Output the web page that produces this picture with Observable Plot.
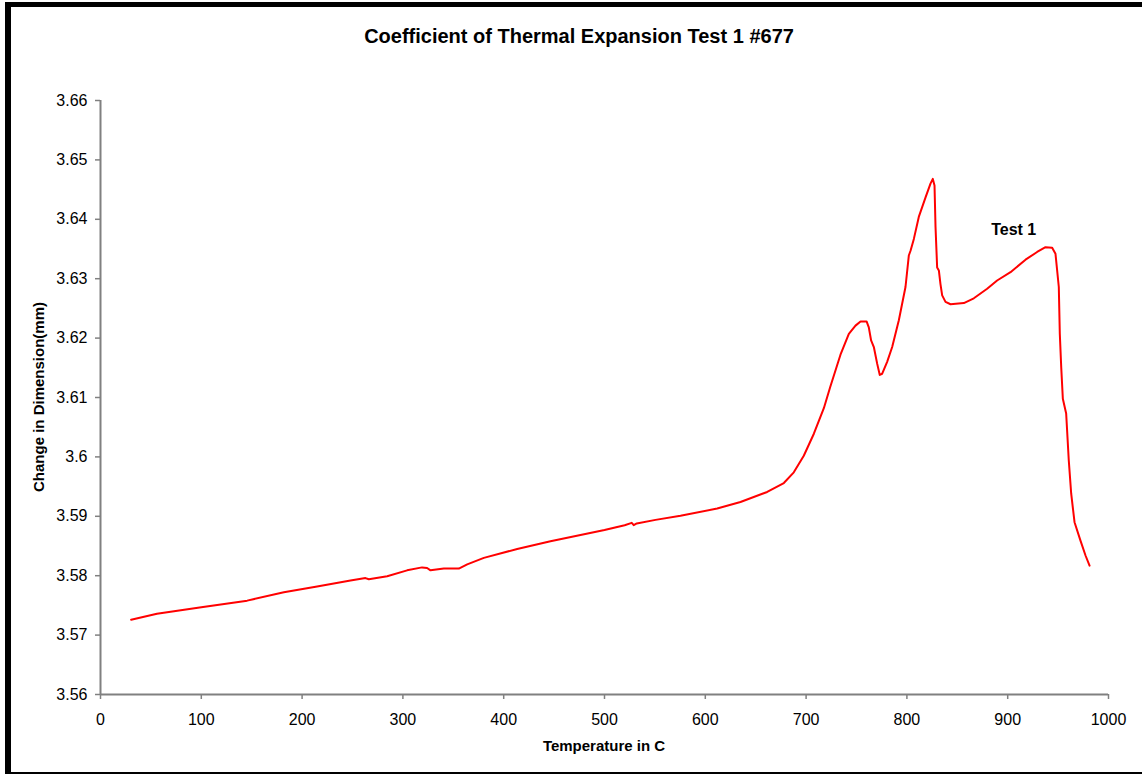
<!DOCTYPE html>
<html>
<head>
<meta charset="utf-8">
<script src="https://cdn.jsdelivr.net/npm/d3@7"></script>
<script src="https://cdn.jsdelivr.net/npm/@observablehq/plot@0.6"></script>
<style>
  html, body { margin: 0; padding: 0; background: #fff; }
  #wrap { position: relative; width: 1142px; height: 775px; overflow: hidden; font-family: "Liberation Sans", Arial, sans-serif; }
  #title { position: absolute; left: 579px; top: 36px; transform: translate(-50%, -50%); font-weight: bold; font-size: 20px; white-space: nowrap; color: #000; }
  #xlabel { position: absolute; left: 604px; top: 745px; transform: translate(-50%, -50%); font-weight: bold; font-size: 15px; white-space: nowrap; color: #000; }
  #ylabel { position: absolute; left: 38px; top: 397px; transform: translate(-50%, -50%) rotate(-90deg); font-weight: bold; font-size: 15px; white-space: nowrap; color: #000; }
  #chart { position: absolute; left: 0; top: 80px; }
  .b { position: absolute; background: #000; }
</style>
</head>
<body>
<div id="wrap">
  <div class="b" style="left:5px;top:2px;width:1137px;height:5px;"></div>
  <div class="b" style="left:5px;top:2px;width:6px;height:772px;"></div>
  <div class="b" style="left:5px;top:772px;width:1137px;height:2px;"></div>
  <div id="title">Coefficient of Thermal Expansion Test 1 #677</div>
  <div id="chart"></div>
  <div id="xlabel">Temperature in C</div>
  <div id="ylabel">Change in Dimension(mm)</div>
</div>
<script>
const temperature = [30.4, 56, 100, 145.5, 181.9, 214.9, 248, 262.9, 266.2, 284.4, 304.2, 319, 324, 327.4, 340.6, 352.2, 355.5, 363.8, 380.3, 413.4, 446.4, 500, 520, 527, 529, 532, 550.6, 575.4, 611.8, 634.9, 661.4, 677.9, 687.8, 697.7, 707.7, 717.6, 724, 730, 734.1, 737.4, 742.4, 749, 754, 760, 762.2, 764.5, 767.2, 770.5, 773.1, 775.5, 780.4, 785.4, 792, 798.6, 801.9, 803.6, 806.9, 811.8, 818.5, 823.4, 825.7, 827.4, 828.4, 830, 831.7, 833.3, 835, 838.3, 843.3, 856.5, 866.4, 879.6, 889.5, 902.8, 917.7, 929.2, 937.5, 944.1, 947.4, 950.7, 951.7, 953.1, 954.7, 958, 960.6, 963, 966.3, 972.2, 977.2, 981.2];
const dimension = [3.5726, 3.5736, 3.5747, 3.5758, 3.5772, 3.5782, 3.5792, 3.5796, 3.5794, 3.5799, 3.5809, 3.5814, 3.5813, 3.5809, 3.5812, 3.5812, 3.5812, 3.5819, 3.5830, 3.5845, 3.5858, 3.5877, 3.5885, 3.5889, 3.5885, 3.5888, 3.5894, 3.5901, 3.5913, 3.5924, 3.5941, 3.5956, 3.5974, 3.6002, 3.6039, 3.6082, 3.6118, 3.6150, 3.6172, 3.6186, 3.6207, 3.6221, 3.6228, 3.6228, 3.6218, 3.6196, 3.6185, 3.6157, 3.6138, 3.6140, 3.6160, 3.6185, 3.6230, 3.6286, 3.6339, 3.6347, 3.6367, 3.6404, 3.6437, 3.6460, 3.6468, 3.6457, 3.6387, 3.6319, 3.6314, 3.6291, 3.6272, 3.6261, 3.6257, 3.6259, 3.6267, 3.6283, 3.6297, 3.6311, 3.6332, 3.6345, 3.6353, 3.6352, 3.6342, 3.6286, 3.6207, 3.6151, 3.6098, 3.6073, 3.5994, 3.5938, 3.5890, 3.5859, 3.5834, 3.5817];
const xTicks = [0, 100, 200, 300, 400, 500, 600, 700, 800, 900, 1000];
const yTicks = [3.56, 3.57, 3.58, 3.59, 3.60, 3.61, 3.62, 3.63, 3.64, 3.65, 3.66];
const seriesLabel = ["Test 1"];
const seriesLabelT = [906];
const seriesLabelV = [3.6383];

const data = temperature.map((t, i) => ({t, v: dimension[i]}));
const labelData = seriesLabel.map((s, i) => ({s, t: seriesLabelT[i], v: seriesLabelV[i]}));

const chart = Plot.plot({
  width: 1142,
  height: 695,
  marginLeft: 100,
  marginRight: 34,
  marginTop: 20,
  marginBottom: 81,
  x: {domain: [0, 1000]},
  y: {domain: [3.56, 3.66]},
  style: {fontFamily: "'Liberation Sans', Arial, sans-serif", fontSize: "16px", color: "#000", background: "transparent", overflow: "visible"},
  marks: [
    Plot.axisX({ticks: xTicks, tickSize: 5, tickPadding: 14, stroke: "#808080", strokeWidth: 1.5, fill: "#000", tickFormat: d => String(d), label: null}),
    Plot.axisY({ticks: yTicks, tickSize: 5, tickPadding: 8, stroke: "#808080", strokeWidth: 1.5, fill: "#000", tickFormat: d => String(+d.toFixed(2)), label: null}),
    Plot.ruleY([3.56], {stroke: "#808080", strokeWidth: 2}),
    Plot.ruleX([0], {stroke: "#808080", strokeWidth: 2}),
    Plot.line(data, {x: "t", y: "v", stroke: "#ff0000", strokeWidth: 2}),
    Plot.text(labelData, {x: "t", y: "v", text: "s", fontWeight: "bold", fontSize: 16, fill: "#000"})
  ]
});
document.getElementById("chart").appendChild(chart);
</script>
</body>
</html>
